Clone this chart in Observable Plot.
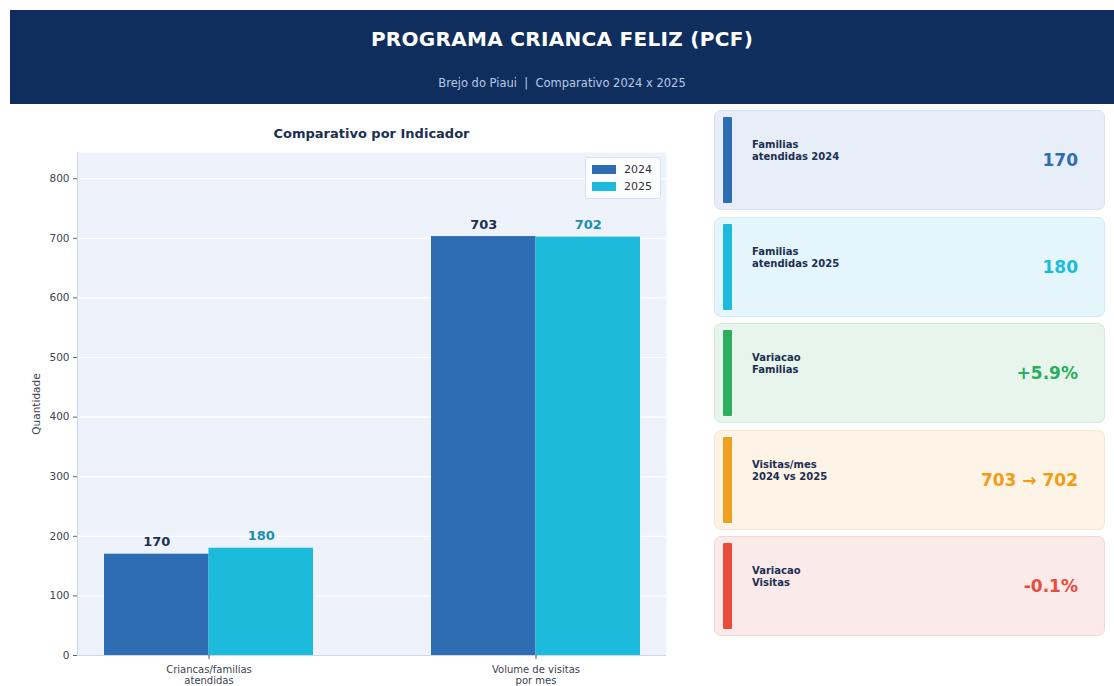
<!DOCTYPE html>
<html>
<head>
<meta charset="utf-8">
<script src="https://cdn.jsdelivr.net/npm/d3@7"></script>
<script src="https://cdn.jsdelivr.net/npm/@observablehq/plot@0.6"></script>
<style>
  body { margin: 0; background: #fff; font-family: "DejaVu Sans", sans-serif; }
  #page { position: relative; width: 1114px; height: 686px; overflow: hidden; background: #fff; }
  #header { position: absolute; left: 10px; top: 10px; width: 1104px; height: 94px; background: #0f2e5e; color: #fff; text-align: center; }
  #header .t { position: absolute; left: 0; right: 0; top: 17px; font-size: 20px; font-weight: bold; letter-spacing: 0.3px; }
  #header .s { position: absolute; left: 0; right: 0; top: 66px; font-size: 11.5px; color: #b9c9e2; }
  #ctitle { position: absolute; left: 77px; width: 589px; top: 126px; text-align: center; font-size: 13px; font-weight: bold; color: #1b2f52; }
  #chart { position: absolute; left: 0; top: 120px; }
  #legend { position: absolute; left: 585px; top: 157px; width: 74px; height: 40px; background: rgba(255,255,255,0.85); border: 1px solid #d8e1ee; border-radius: 3px; font-size: 11px; color: #333; }
  #legend .row { position: absolute; left: 6px; height: 12px; display: flex; align-items: center; }
  #legend .sw { width: 24px; height: 9px; margin-right: 8px; }
  .card { position: absolute; left: 714px; width: 391px; height: 100px; border-radius: 7px; box-sizing: border-box; }
  .card .bar { position: absolute; left: 8px; top: 6px; bottom: 6px; width: 9px; border-radius: 1px; }
  .card .lab { position: absolute; left: 37px; top: 28px; font-size: 10px; font-weight: bold; color: #1b2f52; line-height: 12px; white-space: pre; }
  .card .val { position: absolute; right: 26px; top: 39px; font-size: 17px; font-weight: bold; }
</style>
</head>
<body>
<div id="page">
  <div id="header"><div class="t">PROGRAMA CRIANCA FELIZ (PCF)</div><div class="s">Brejo do Piaui&nbsp; |&nbsp; Comparativo 2024 x 2025</div></div>
  <div id="ctitle">Comparativo por Indicador</div>
  <div id="chart"></div>
  <div id="legend"></div>
  <div id="cards"></div>
</div>
<script>
const categories = ["Criancas/familias\natendidas", "Volume de visitas\npor mes"];
const years = ["2024", "2025"];
const values2024 = [170, 703];
const values2025 = [180, 702];
const yTicks = [0, 100, 200, 300, 400, 500, 600, 700, 800];

const cardLabels = ["Familias\natendidas 2024", "Familias\natendidas 2025", "Variacao\nFamilias", "Visitas/mes\n2024 vs 2025", "Variacao\nVisitas"];
const cardValues = ["170", "180", "+5.9%", "703 \u2192 702", "-0.1%"];

const yearColors = ["#2f6db3", "#1cbadb"];
const labelColors = ["#1b2f52", "#1a8fb0"];
const cardStyles = [
  {bg: "#e8eef7", border: "#d6e0ee", accent: "#2f6db3", val: "#2f6db3"},
  {bg: "#e4f6fb", border: "#cdeef6", accent: "#1cbadb", val: "#1cbadb"},
  {bg: "#e8f5ec", border: "#d3ecdb", accent: "#2eaf5f", val: "#27ae60"},
  {bg: "#fdf3e6", border: "#f7e6cf", accent: "#f0a020", val: "#f39c12"},
  {bg: "#fbeaea", border: "#f4d6d6", accent: "#e74c3c", val: "#e74c3c"}
];

const data = [];
categories.forEach((c, i) => {
  data.push({cat: c, year: years[0], value: values2024[i]});
  data.push({cat: c, year: years[1], value: values2025[i]});
});
const d24 = data.filter(d => d.year === years[0]);
const d25 = data.filter(d => d.year === years[1]);

const W = 700, H = 570, mL = 77, mR = 34, mT = 32, mB = 35;
const pIn = 0.361, pOut = 0.081;
const step = (W - mL - mR) / (categories.length - pIn + 2 * pOut);
const bw = step * (1 - pIn);
const half = bw / 2;

const plot = Plot.plot({
  width: W, height: H,
  marginLeft: mL, marginRight: mR, marginTop: mT, marginBottom: mB,
  style: {fontFamily: "DejaVu Sans, sans-serif", background: "transparent"},
  x: {domain: categories, paddingInner: pIn, paddingOuter: pOut, label: null},
  y: {domain: [0, 844], label: null},
  marks: [
    Plot.frame({fill: "#eef3fb", stroke: null}),
    Plot.gridY(yTicks, {stroke: "#ffffff", strokeOpacity: 1, strokeWidth: 1.2}),
    Plot.barY(d24, {x: "cat", y: "value", fill: yearColors[0], insetRight: half}),
    Plot.barY(d25, {x: "cat", y: "value", fill: yearColors[1], insetLeft: half}),
    Plot.ruleY([0], {stroke: "#c9d8ec"}),
    Plot.frame({anchor: "left", stroke: "#c9d8ec"}),
    Plot.text(d24, {x: "cat", y: "value", text: d => String(d.value), dx: -half / 2, dy: -12, fill: labelColors[0], fontWeight: "bold", fontSize: 13}),
    Plot.text(d25, {x: "cat", y: "value", text: d => String(d.value), dx: half / 2, dy: -12, fill: labelColors[1], fontWeight: "bold", fontSize: 13}),
    Plot.axisY(yTicks, {tickSize: 4, tickPadding: 4, fontSize: 10.5, color: "#3d4350", stroke: "#666", label: "Quantidade", labelAnchor: "center", labelOffset: 45, labelArrow: "none"}),
    Plot.axisX({tickSize: 4, tickPadding: 5, fontSize: 10, color: "#3d4350", stroke: "#555", label: null, lineHeight: 1.15})
  ]
});
document.getElementById("chart").appendChild(plot);

// legend
const leg = document.getElementById("legend");
years.forEach((y, i) => {
  const r = document.createElement("div");
  r.className = "row";
  r.style.top = (5 + i * 17) + "px";
  r.innerHTML = `<div class="sw" style="background:${yearColors[i]}"></div><span>${y}</span>`;
  leg.appendChild(r);
});

// cards
const cardsEl = document.getElementById("cards");
const tops = [110, 217, 323, 430, 536];
cardLabels.forEach((l, i) => {
  const s = cardStyles[i];
  const c = document.createElement("div");
  c.className = "card";
  c.style.top = tops[i] + "px";
  c.style.background = s.bg;
  c.style.border = "1.5px solid " + s.border;
  c.innerHTML = `<div class="bar" style="background:${s.accent}"></div><div class="lab">${l}</div><div class="val" style="color:${s.val}">${cardValues[i]}</div>`;
  cardsEl.appendChild(c);
});
</script>
</body>
</html>
